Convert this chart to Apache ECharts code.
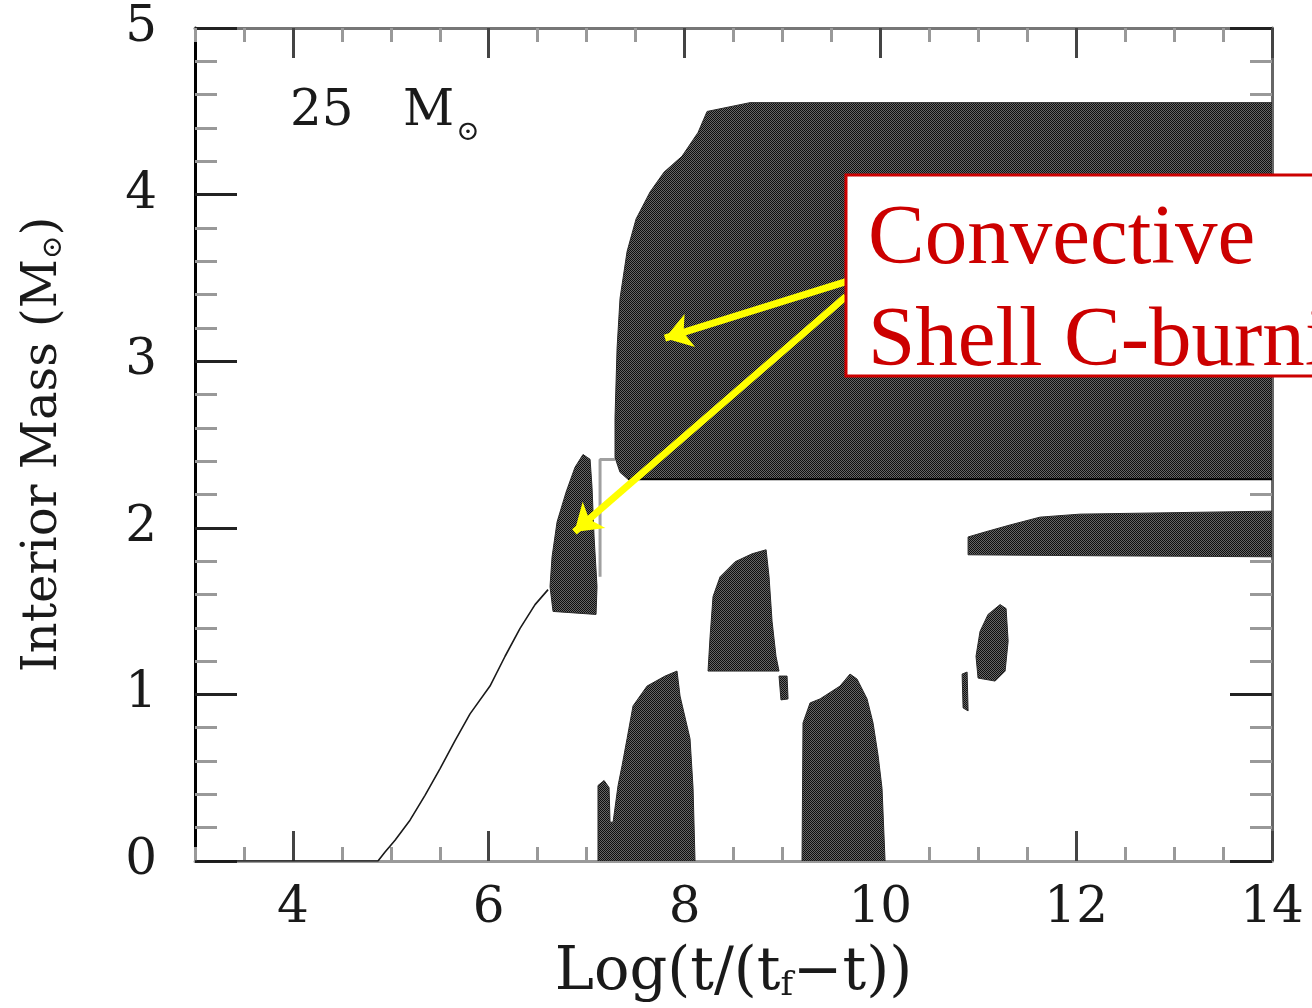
<!DOCTYPE html>
<html>
<head>
<meta charset="utf-8">
<script src="https://cdn.jsdelivr.net/npm/echarts@6/dist/echarts.min.js"></script>
<style>
html,body{margin:0;padding:0;background:#fff;}
#chart{width:1312px;height:1008px;}
</style>
</head>
<body>
<div id="chart"></div>
<script>
// ---- data (x = Log(t/(t_f - t)), y = interior mass in M_sun) ----
const xTickLabels = [4, 6, 8, 10, 12, 14];
const yTickLabels = [0, 1, 2, 3, 4, 5];

// convective regions (outline vertices)
const shellCBurning = [[14,4.552],[8.669,4.552],[8.23,4.499],[8.138,4.373],[7.974,4.230],[7.791,4.135],[7.648,4.016],[7.505,3.854],[7.413,3.658],[7.341,3.377],[7.311,3.079],[7.29,2.661],[7.29,2.422],[7.341,2.333],[7.423,2.291],[14,2.291]];
const zoneA = [[6.963,2.440],[6.881,2.363],[6.79,2.214],[6.698,2.035],[6.647,1.826],[6.626,1.647],[6.657,1.498],[7.096,1.480],[7.106,1.647],[7.076,1.945],[7.055,2.243],[7.035,2.411]];
const zoneB = [[7.116,0],[7.116,0.453],[7.178,0.483],[7.229,0.441],[7.239,0.233],[7.27,0.233],[7.321,0.453],[7.362,0.573],[7.413,0.734],[7.474,0.931],[7.617,1.050],[7.801,1.110],[7.923,1.140],[7.954,0.990],[8.056,0.734],[8.087,0.436],[8.107,0]];
const zoneC = [[8.24,1.140],[8.261,1.348],[8.291,1.587],[8.363,1.706],[8.516,1.796],[8.69,1.844],[8.833,1.868],[8.863,1.706],[8.894,1.438],[8.934,1.229],[8.965,1.140]];
const zoneC2 = [[8.965,1.110],[9.047,1.110],[9.057,0.973],[8.985,0.967]];
const zoneD = [[9.2,0],[9.21,0.829],[9.282,0.949],[9.384,0.973],[9.588,1.050],[9.69,1.122],[9.762,1.092],[9.864,0.973],[9.925,0.829],[9.977,0.632],[10.017,0.436],[10.048,0]];
const zoneE = [[11.223,1.539],[11.1,1.480],[11.018,1.378],[10.977,1.229],[10.998,1.098],[11.172,1.080],[11.274,1.140],[11.305,1.319],[11.284,1.515]];
const zoneE2 = [[10.835,1.122],[10.886,1.134],[10.896,0.901],[10.845,0.919]];
const zoneF = [[10.896,1.838],[10.896,1.945],[11.07,1.975],[11.325,2.017],[11.631,2.064],[12.04,2.082],[14,2.100],[14,1.826],[12.244,1.832]];

// core boundary curve
const coreCurve = [[3,0],[4.869,0],[4.941,0.054],[5.043,0.125],[5.196,0.245],[5.349,0.394],[5.503,0.555],[5.656,0.722],[5.809,0.883],[6.013,1.050],[6.167,1.229],[6.32,1.396],[6.473,1.539],[6.606,1.629]];
const thinOutline = [[7.137,1.706],[7.137,2.41],[7.29,2.41]];
const shellBase = [[7.423,2.291],[14,2.291]];

// annotation arrows (tail, head)
const arrows = [
  [[9.65,3.478],[7.80,3.138]],
  [[9.65,3.389],[6.875,1.975]]
];

const regions = [shellCBurning, zoneA, zoneB, zoneC, zoneC2, zoneD, zoneE, zoneE2, zoneF];

// checker texture
function makePattern(){
  const c = document.createElement('canvas');
  c.width = 2; c.height = 2;
  const g = c.getContext('2d');
  g.fillStyle = '#666666'; g.fillRect(0,0,2,2);
  g.fillStyle = '#0e0e0e'; g.fillRect(0,0,1,1); g.fillRect(1,1,1,1);
  return c;
}
const pat = makePattern();

const FONT = '"DejaVu Serif", serif';
const chart = echarts.init(document.getElementById('chart'));

function xAxisBase(pos, showLabels){
  return {
    type:'value', position:pos, min:3, max:14, interval:0.5,
    axisLine:{show:true, lineStyle:{color: pos==='bottom' ? '#9a9a9a' : '#777', width:3}},
    axisTick:{show:true, inside:true, length:14, lineStyle:{color:'#999', width:3}},
    axisLabel: showLabels ? {show:true, customValues:xTickLabels, fontFamily:FONT, fontSize:50, color:'#1a1a1a', margin:23} : {show:false},
    splitLine:{show:false}
  };
}
function xAxisMajor(pos){
  return {
    type:'value', position:pos, min:3, max:14,
    axisLine:{show:false},
    axisTick:{show:true, inside:true, length:30, customValues:xTickLabels, lineStyle:{color:'#444', width:3}},
    axisLabel:{show:false}, splitLine:{show:false}
  };
}
function yAxisBase(pos, showLabels){
  return {
    type:'value', position:pos, min:0, max:5, interval:1,
    axisLine:{show:true, lineStyle:{color: pos==='left' ? '#000' : '#666', width:3}},
    axisTick:{show:true, inside:true, length:42, lineStyle:{color:'#222', width:3}},
    minorTick:{show:true, splitNumber:5, length:22, lineStyle:{color:'#999', width:3}},
    axisLabel: showLabels ? {show:true, fontFamily:FONT, fontSize:50, color:'#1a1a1a', margin:38} : {show:false},
    splitLine:{show:false}
  };
}

const xb = xAxisBase('bottom', true);
xb.name = 'Log(t/(t{s|f}−t))';
xb.nameLocation = 'middle';
xb.nameGap = 83;
xb.nameTextStyle = {fontFamily:FONT, fontSize:59, color:'#1a1a1a',
  rich:{s:{fontFamily:FONT, fontSize:34, lineHeight:4, verticalAlign:'bottom', color:'#1a1a1a'}}};

const yl = yAxisBase('left', true);
yl.name = 'Interior Mass (M{s|⊙})';
yl.nameLocation = 'middle';
yl.nameRotate = 90;
yl.nameGap = 127;
yl.nameTextStyle = {fontFamily:FONT, fontSize:48, color:'#1a1a1a',
  rich:{s:{fontFamily:FONT, fontSize:28, lineHeight:6, verticalAlign:'bottom', color:'#1a1a1a'}}};

const option = {
  animation:false,
  backgroundColor:'#fff',
  grid:{left:195, right:40, top:28, bottom:142, containLabel:false},
  xAxis:[xb, xAxisMajor('bottom'), xAxisBase('top', false), xAxisMajor('top')],
  yAxis:[yl, yAxisBase('right', false)],
  series:[
    {
      type:'custom', xAxisIndex:0, yAxisIndex:0, clip:true, z:2,
      data: regions.map((r,i)=>[r[0][0], r[0][1], i]),
      renderItem:function(params, api){
        const pts = regions[api.value(2)].map(p=>api.coord(p));
        return {type:'polygon', shape:{points:pts}, style:{fill:{image:pat, repeat:'repeat'}, stroke:'#2a2a2a', lineWidth:1}};
      }
    },
    {type:'line', xAxisIndex:0, yAxisIndex:0, data:coreCurve, showSymbol:false, symbol:'none',
      lineStyle:{color:'#1a1a1a', width:1.6}, z:3},
    {type:'line', xAxisIndex:0, yAxisIndex:0, data:thinOutline, showSymbol:false, symbol:'none',
      lineStyle:{color:'#a0a0a0', width:3}, z:3},
    {type:'line', xAxisIndex:0, yAxisIndex:0, data:shellBase, showSymbol:false, symbol:'none',
      lineStyle:{color:'#000', width:2}, z:3},
    {type:'lines', coordinateSystem:'cartesian2d', xAxisIndex:0, yAxisIndex:0, z:20,
      symbol:['none','arrow'], symbolSize:26,
      lineStyle:{color:'#ffff00', width:7, opacity:1, curveness:0},
      data: arrows.map(a=>({coords:a}))}
  ],
  graphic:[
    {type:'rect', z:100, shape:{x:846, y:175, width:500, height:201},
      style:{fill:'#fff', stroke:'#cc0000', lineWidth:3}},
    {type:'text', z:101, x:868, y:241, style:{text:'Convective', fill:'#cc0000',
      font:'85px "Liberation Serif", serif', verticalAlign:'middle', align:'left'}},
    {type:'text', z:101, x:868, y:343, style:{text:'Shell C-burning', fill:'#cc0000',
      font:'85px "Liberation Serif", serif', verticalAlign:'middle', align:'left'}},
    {type:'text', z:101, x:290, y:112, style:{text:'25', fill:'#1a1a1a',
      font:'50px "DejaVu Serif", serif', verticalAlign:'middle', align:'left'}},
    {type:'text', z:101, x:403, y:112, style:{text:'M', fill:'#1a1a1a',
      font:'50px "DejaVu Serif", serif', verticalAlign:'middle', align:'left'}},
    {type:'text', z:101, x:468, y:133, style:{text:'⊙', fill:'#1a1a1a',
      font:'28px "DejaVu Serif", serif', verticalAlign:'middle', align:'center'}}
  ]
};
chart.setOption(option);
</script>
</body>
</html>
